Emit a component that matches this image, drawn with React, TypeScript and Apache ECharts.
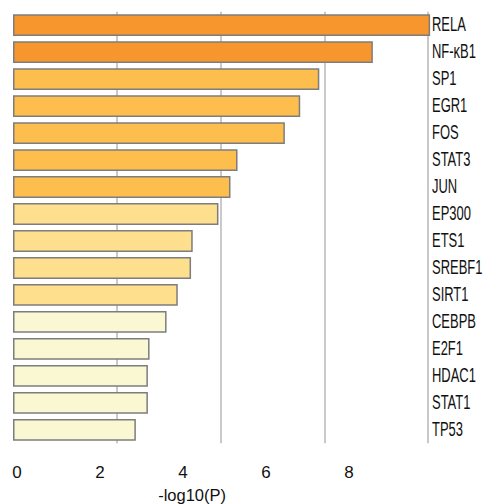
import React, { useEffect, useRef } from "react";
import * as echarts from "echarts";

const categories = [
  "RELA", "NF-κB1", "SP1", "EGR1", "FOS", "STAT3", "JUN", "EP300",
  "ETS1", "SREBF1", "SIRT1", "CEBPB", "E2F1", "HDAC1", "STAT1", "TP53",
];
const values = [
  10.05, 8.67, 7.38, 6.92, 6.55, 5.41, 5.24, 4.95,
  4.33, 4.29, 3.97, 3.7, 3.29, 3.25, 3.25, 2.96,
];
// significance tier of each term (0 = most significant)
const tiers = [0, 0, 1, 1, 1, 1, 1, 2, 2, 2, 2, 3, 3, 3, 3, 3];
const tickLabels = [0, 2, 4, 6, 8];
const gridValues = [2.5, 5, 7.5];

const tierColors = ["#F6962C", "#FDBE4E", "#FDDF8E", "#F9F8D3"];
const AXIS_MAX = 10.1;
const FONT = "'Liberation Sans', Arial, sans-serif";

export default function App() {
  const ref = useRef<HTMLDivElement>(null);
  useEffect(() => {
    if (!ref.current) return;
    const chart = echarts.init(ref.current, null, { renderer: "svg" });
    chart.setOption({
      animation: false,
      backgroundColor: "#ffffff",
      grid: {
        left: 13,
        top: 11.7,
        right: 483 - 432.2,
        bottom: 504 - 443.3,
        containLabel: false,
        outerBoundsMode: "none",
      },
      xAxis: [
        {
          type: "value",
          min: 0,
          max: AXIS_MAX,
          interval: 2,
          position: "bottom",
          axisLine: { show: false },
          axisTick: { show: false },
          splitLine: { show: false },
          axisLabel: {
            show: true,
            margin: 21,
            fontSize: 17,
            fontFamily: FONT,
            color: "#111",
            padding: [0, 0, 0, 8],
            showMaxLabel: false,
            formatter: (v: number) => (tickLabels.includes(v) ? String(v) : ""),
          },
          name: "-log10(P)",
          nameLocation: "middle",
          nameGap: 34,
          nameTextStyle: {
            fontSize: 16.5,
            fontFamily: FONT,
            color: "#111",
            padding: [0, 61, 0, 0],
          },
        },
        {
          type: "value",
          min: 0,
          max: AXIS_MAX,
          interval: gridValues[0],
          position: "bottom",
          axisLine: { show: false },
          axisTick: { show: false },
          axisLabel: { show: false },
          splitLine: {
            show: true,
            showMinLine: false,
            showMaxLine: false,
            lineStyle: { color: "#c9c9c9", width: 2 },
          },
        },
      ],
      yAxis: {
        type: "category",
        data: categories,
        inverse: true,
        position: "right",
        axisLine: { show: false },
        axisTick: { show: false },
        splitLine: { show: false },
        axisLabel: { show: false },
      },
      series: [
        {
          type: "bar",
          xAxisIndex: 0,
          barCategoryGap: "19%",
          data: values.map((v, i) => ({
            value: v,
            itemStyle: {
              color: tierColors[tiers[i]],
              borderColor: "#7d7d7d",
              borderWidth: 1.5,
            },
          })),
        },
      ],
    });

    // category names, drawn condensed like the reference, placed via the category axis
    const labelX = 432;
    const graphic = categories.map((name, i) => {
      const y = chart.convertToPixel({ yAxisIndex: 0 }, i) as number;
      return {
        type: "text",
        x: labelX,
        y: y - 0.5,
        scaleX: 0.665,
        silent: true,
        style: {
          text: name,
          fontSize: 19.5,
          fontFamily: FONT,
          fill: "#111",
          align: "left",
          verticalAlign: "middle",
          textAlign: "left",
          textVerticalAlign: "middle",
        },
      };
    });
    chart.setOption({ graphic });
    return () => chart.dispose();
  }, []);
  return (
    <div
      ref={ref}
      style={{ position: "fixed", left: 0, top: 0, width: 483, height: 504 }}
    />
  );
}
